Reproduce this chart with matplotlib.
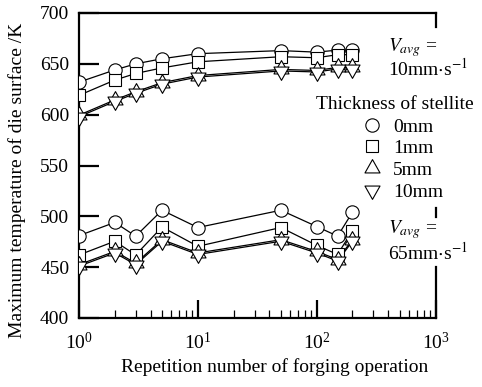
import matplotlib
matplotlib.use("Agg")
import matplotlib.pyplot as plt
from matplotlib.path import Path
from matplotlib.lines import Line2D

plt.rcParams['font.family'] = 'serif'
plt.rcParams['font.serif'] = ['Liberation Serif', 'DejaVu Serif']
plt.rcParams['mathtext.fontset'] = 'stix'

# repetition numbers
x = [1, 2, 3, 5, 10, 50, 100, 150, 200]

# V_avg = 10 mm/s
t0_v10 = [632, 644, 650, 655, 660, 663, 661.5, 663.5, 663.5]
t1_v10 = [619, 634, 640.5, 646, 652, 657, 656, 659, 659]
t5_v10 = [599.5, 614.5, 622.5, 631.5, 638.5, 644.5, 643.5, 646.5, 646.5]
t10_v10 = [598, 613, 621, 630, 637, 643, 642, 645, 645]

# V_avg = 65 mm/s
t0_v65 = [481, 494, 480.5, 506, 489, 506, 490, 480.5, 504]
t1_v65 = [462, 475.5, 462, 489.5, 470.5, 489, 471.5, 462.5, 486]
t5_v65 = [452.5, 465.5, 454, 477, 464, 477, 465.5, 457.5, 477]
t10_v65 = [451, 464, 452.5, 475.5, 462.5, 475.5, 464, 456, 475.5]

labels = ['0mm', '1mm', '5mm', '10mm']

# triangles centred on their centroid
up_tri = Path([(0, 1), (-0.846, -0.5), (0.846, -0.5), (0, 1)], closed=True)
down_tri = Path([(0, -1), (-0.846, 0.5), (0.846, 0.5), (0, -1)], closed=True)
markers = ['o', 's', up_tri, down_tri]
msizes = [9.6, 9.2, 12.8, 12.8]

fig = plt.figure(figsize=(4.82, 3.87), dpi=100)
ax = fig.add_axes([79 / 482, 69 / 387, 356.5 / 482, 305 / 387])

for group in [(t0_v10, t1_v10, t5_v10, t10_v10), (t0_v65, t1_v65, t5_v65, t10_v65)]:
    for vals in group:
        ax.plot(x, vals, color='black', lw=0.9, zorder=2)
    for k, (vals, m, ms) in enumerate(zip(group, markers, msizes)):
        ax.plot(x, vals, ls='none', marker=m, ms=ms, mfc='white', mec='black',
                mew=0.8, zorder=3 + k)

ax.set_xscale('log')
ax.set_xlim(1, 1000)
ax.set_ylim(400, 700)
ax.set_yticks(range(400, 701, 50))

for s in ax.spines.values():
    s.set_linewidth(1.6)
ax.spines['right'].set_visible(False)
# right frame broken where the notes sit
for lo, hi in [(0.954, 1.0), (0.331, 0.361), (0.0, 0.167)]:
    ax.axvline(1000, lo, hi, color='black', lw=1.6, clip_on=False)

ax.tick_params(axis='y', which='both', direction='in', length=14.4, width=1.6,
               labelsize=14, pad=7, right=False)
ax.tick_params(axis='x', which='major', direction='in', length=13, width=1.6,
               labelsize=14, pad=10, top=False)
ax.tick_params(axis='x', which='minor', direction='in', length=6, width=0.9, top=False)

ax.set_xlabel('Repetition number of forging operation', fontsize=14)
ax.xaxis.set_label_coords(0.55, -0.13)
ax.set_ylabel('Maximum temperature of die surface /K', fontsize=14)
ax.yaxis.set_label_coords(-0.149, 0.452)

tx = 0.8668
ax.text(tx, 0.875, '$V_{avg}$ =', transform=ax.transAxes, fontsize=14,
        ha='left', va='baseline')
ax.text(tx, 0.796, '10mm$\\cdot$s$^{-1}$', transform=ax.transAxes, fontsize=14,
        ha='left', va='baseline')
ax.text(tx, 0.279, '$V_{avg}$ =', transform=ax.transAxes, fontsize=14,
        ha='left', va='baseline')
ax.text(tx, 0.1925, '65mm$\\cdot$s$^{-1}$', transform=ax.transAxes, fontsize=14,
        ha='left', va='baseline')

ax.text(0.886, 0.699, 'Thickness of stellite', transform=ax.transAxes, fontsize=14,
        ha='center', va='center')
handles = [Line2D([], [], ls='none', marker=m, ms=ms, mfc='white', mec='black', mew=0.8)
           for m, ms in zip(markers, msizes)]
ax.legend(handles, labels, loc='upper left', bbox_to_anchor=(0.794, 0.656),
          frameon=False, fontsize=14, borderpad=0, borderaxespad=0,
          handlelength=1.0, handletextpad=0.6, labelspacing=0.21)

fig.savefig('out.png', dpi=100)
